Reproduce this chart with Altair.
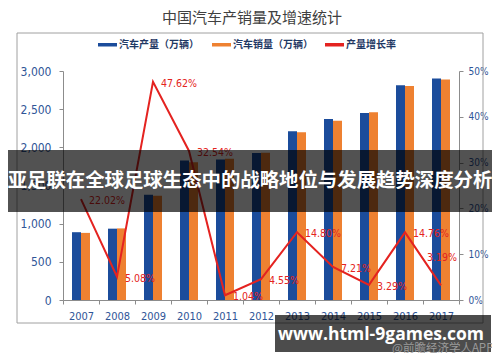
import altair as alt
import pandas as pd

years = ["2007", "2008", "2009", "2010", "2011", "2012", "2013", "2014", "2015", "2016", "2017"]
production = [888.2, 934.5, 1379.1, 1826.5, 1841.9, 1927.2, 2211.7, 2372.3, 2450.3, 2811.9, 2901.5]
sales = [879.2, 938.1, 1364.5, 1806.2, 1850.5, 1930.6, 2198.4, 2349.2, 2459.8, 2802.8, 2887.9]
growth = [22.02, 5.08, 47.62, 32.54, 1.04, 4.55, 14.80, 7.21, 3.29, 14.76, 3.19]
series_names = ["汽车产量（万辆）", "汽车销量（万辆）", "产量增长率"]
title_text = "中国汽车产销量及增速统计"
banner_text = "亚足联在全球足球生态中的战略地位与发展趋势深度分析"
site_text = "www.html-9games.com"
source_text = "@前瞻经济学人APP"

BLUE = "#1B4C9B"
ORANGE = "#EE8131"
RED = "#E42320"
AXIS_LABEL = "#2F5597"
NARROW = "Liberation Sans Narrow, DejaVu Sans Condensed, sans-serif"
CJK = "Noto Sans CJK SC"

bars_df = pd.DataFrame(
    [{"year": y, "series": series_names[0], "value": v} for y, v in zip(years, production)]
    + [{"year": y, "series": series_names[1], "value": v} for y, v in zip(years, sales)]
)
line_df = pd.DataFrame({"year": years, "growth": growth})
one = pd.DataFrame({"k": [0]})

x_enc = alt.X(
    "year:N",
    sort=years,
    scale=alt.Scale(paddingInner=0, paddingOuter=0),
    axis=alt.Axis(
        title=None, labelAngle=0, tickBand="extent", labelColor=AXIS_LABEL,
        labelFont=NARROW, labelFontSize=11, labelPadding=6, tickSize=4,
        domainColor="#8c8c8c", tickColor="#8c8c8c",
    ),
)

bars = alt.Chart(bars_df).mark_bar().encode(
    x=x_enc,
    xOffset=alt.XOffset("series:N", sort=series_names[:2],
                        scale=alt.Scale(paddingInner=0, paddingOuter=1)),
    y=alt.Y("value:Q", scale=alt.Scale(domain=[0, 3000]),
            axis=alt.Axis(title=None, values=[0, 500, 1000, 1500, 2000, 2500, 3000],
                          format=",.0f", grid=False, labelColor=AXIS_LABEL, labelFont=NARROW,
                          labelFontSize=12, labelPadding=8, tickSize=4,
                          domainColor="#8c8c8c", tickColor="#8c8c8c")),
    color=alt.Color("series:N", scale=alt.Scale(domain=series_names[:2], range=[BLUE, ORANGE]),
                    legend=None),
)

line = alt.Chart(line_df).mark_line(color=RED, strokeWidth=2).encode(
    x=alt.X("year:N", sort=years),
    y=alt.Y("growth:Q", scale=alt.Scale(domain=[0, 50]),
            axis=alt.Axis(title=None, orient="right", values=[0, 10, 20, 30, 40, 50],
                          labelExpr="datum.value + '%'", grid=False, labelColor=AXIS_LABEL,
                          labelFont=NARROW, labelFontSize=10, labelPadding=5, tickSize=4,
                          domainColor="#8c8c8c", tickColor="#8c8c8c")),
)

label_base = alt.Chart(line_df).transform_calculate(
    label="format(datum.growth, '.2f') + '%'"
)
labels = label_base.transform_filter(f"datum.year != '{years[-1]}'").mark_text(
    align="left", baseline="middle", dx=8, dy=2, color=RED, font=NARROW, fontSize=10.5
).encode(x=alt.X("year:N", sort=years), y="growth:Q", text="label:N")
label_last = label_base.transform_filter(f"datum.year == '{years[-1]}'").mark_text(
    align="left", baseline="middle", dx=-14, dy=-27, color=RED, font=NARROW, fontSize=10.5
).encode(x=alt.X("year:N", sort=years), y="growth:Q", text="label:N")

growth_layer = alt.layer(line, labels, label_last)

frame = alt.Chart(one).mark_rect(fill=None, stroke="#a0a0a0", strokeWidth=1).encode(
    x=alt.value(-46), x2=alt.value(420), y=alt.value(-38), y2=alt.value(252)
)

title = alt.Chart(one).mark_text(
    text=title_text, font=CJK, fontSize=15, color="#404040", align="center", baseline="middle"
).encode(x=alt.value(189), y=alt.value(-53))

leg_df = pd.DataFrame({
    "name": series_names,
    "sx": [35, 149, 262],
    "tx": [56, 170, 283],
    "c": [BLUE, ORANGE, RED],
})
leg_sym = alt.Chart(leg_df).mark_rect().encode(
    x=alt.X("sx:Q", scale=None), x2=alt.X2("sx2:Q"),
    y=alt.value(-28), y2=alt.value(-24.5),
    color=alt.Color("c:N", scale=None),
).transform_calculate(sx2="datum.sx + 19")
leg_txt = alt.Chart(leg_df).mark_text(
    align="left", baseline="middle", font=CJK, fontSize=10, color="#1F3864", fontWeight="bold"
).encode(x=alt.X("tx:Q", scale=None), y=alt.value(-26), text="name:N")

banner = alt.Chart(one).mark_rect(fill="#000000", opacity=0.68).encode(
    x=alt.value(-70), x2=alt.value(440), y=alt.value(79), y2=alt.value(141)
)
banner_t = alt.Chart(one).mark_text(
    text=banner_text, font=CJK, fontSize=19.4, fontWeight="bold", color="#ffffff",
    align="center", baseline="middle"
).encode(x=alt.value(187), y=alt.value(110))

wm_box = alt.Chart(one).mark_rect(fill="#000000", opacity=0.7).encode(
    x=alt.value(212), x2=alt.value(428), y=alt.value(244), y2=alt.value(281)
)
wm_t = alt.Chart(one).mark_text(
    text=site_text, font="Open Sans", fontSize=17.5, fontWeight="bold", color="#ffffff",
    align="center", baseline="middle"
).encode(x=alt.value(318), y=alt.value(264))
src_t = alt.Chart(one).mark_text(
    text=source_text, font=CJK, fontSize=11.5, color="#9a9a9a", align="left", baseline="middle"
).encode(x=alt.value(329), y=alt.value(277.5))

chart = alt.layer(
    frame, bars, growth_layer, title, leg_sym, leg_txt, banner, banner_t, wm_box, wm_t, src_t
).resolve_scale(y="independent").properties(
    width=396, height=229,
    autosize=alt.AutoSizeParams(type="none"),
    padding={"left": 55, "top": 63, "right": 33, "bottom": 53},
    background="#ffffff",
).configure_view(stroke=None)

chart.save("out.html", embed_options={"renderer": "svg", "actions": False})
